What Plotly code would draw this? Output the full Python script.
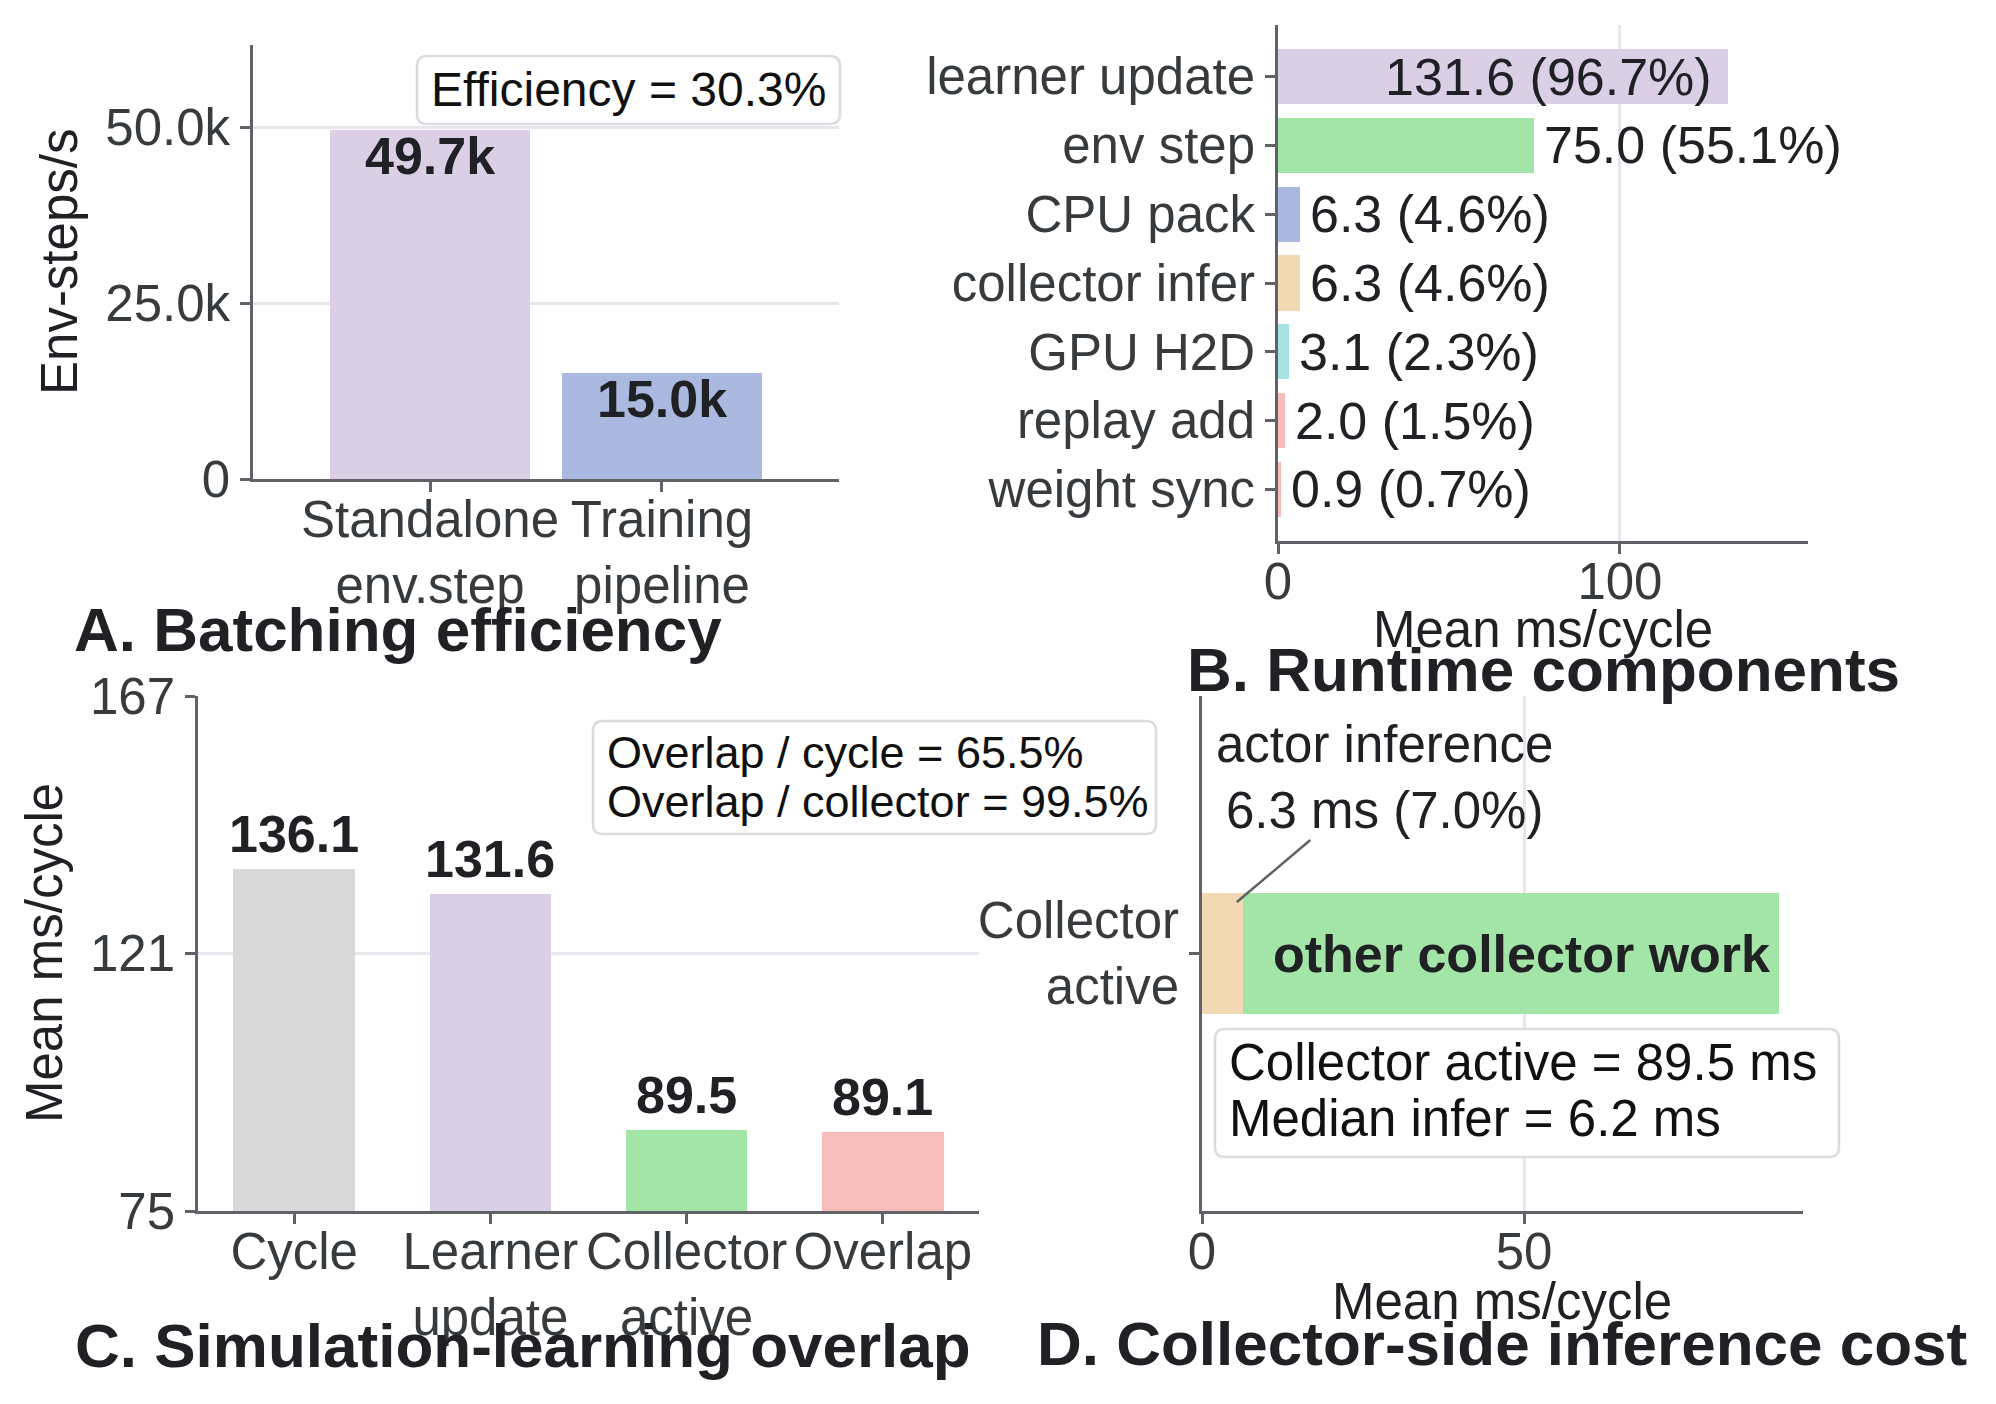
import plotly.graph_objects as go

W, H = 1996, 1404

# ---------------- data ----------------
# Panel A: batching efficiency
a_categories = ["Standalone<br>env.step", "Training<br>pipeline"]
a_values = [49680, 15040]
a_colors = ["#dacfe5", "#abb8e0"]
a_tickvals = [0, 25000, 50000]
a_ticktext = ["0", "25.0k", "50.0k"]

# Panel B: runtime components (mean ms / cycle)
b_components = ["learner update", "env step", "CPU pack", "collector infer",
                "GPU H2D", "replay add", "weight sync"]
b_values = [131.6, 75.0, 6.3, 6.3, 3.1, 2.0, 0.9]
b_colors = ["#dacfe5", "#a3e4a7", "#abb8e0", "#f3d9b3", "#a8e3e3", "#f8bdbb", "#f8bdbb"]
cycle_ms = 136.1
b_tickvals = [0, 100]

# Panel C: simulation-learning overlap
c_categories = ["Cycle", "Learner<br>update", "Collector<br>active", "Overlap"]
c_values = [136.1, 131.6, 89.5, 89.1]
c_colors = ["#d9d9d9", "#dacfe5", "#a3e4a7", "#f8bdbb"]
c_tickvals = [75, 121, 167]
overlap_per_cycle = 65.5
overlap_per_collector = 99.5

# Panel D: collector-side inference cost
d_category = "Collector<br>active"
d_infer_ms = 6.3
d_active_ms = 89.5
d_median_infer = 6.2
d_tickvals = [0, 50]

# ---------------- style ----------------
FONT = "Liberation Sans, Arial, sans-serif"
TICK_C = "#383b3e"
TXT_C = "#202124"
AX_C = "#5f6368"
GRID_C = "#e6e6ec"
BOX_C = "#dadce0"
XSTAND = -16
YSTAND = 0


def px(x):
    return x / W


def py(y):
    return 1 - y / H


def axis_common(**kw):
    d = dict(showline=True, linecolor=AX_C, linewidth=2.5, ticks="outside",
             ticklen=10, tickwidth=2.5, tickcolor=AX_C, zeroline=False,
             tickfont=dict(size=51, color=TICK_C, family=FONT),
             gridcolor=GRID_C, gridwidth=2.5, showgrid=False, fixedrange=True,
             automargin=False)
    d.update(kw)
    return d


fig = go.Figure()

# Panel A
fig.add_trace(go.Bar(x=list(range(len(a_values))), y=a_values, marker_color=a_colors,
                     width=0.86, xaxis="x", yaxis="y", showlegend=False))
# Panel B
fig.add_trace(go.Bar(y=list(range(len(b_values))), x=b_values, orientation="h",
                     marker_color=b_colors, width=0.8, xaxis="x2", yaxis="y2",
                     showlegend=False))
# Panel C
fig.add_trace(go.Bar(x=list(range(len(c_values))), y=c_values, marker_color=c_colors,
                     width=0.62, xaxis="x3", yaxis="y3", showlegend=False))
# Panel D
fig.add_trace(go.Bar(y=[0], x=[d_infer_ms], base=[0], orientation="h",
                     marker_color="#f3d9b3", width=0.47, xaxis="x4", yaxis="y4",
                     showlegend=False))
fig.add_trace(go.Bar(y=[0], x=[d_active_ms - d_infer_ms], base=[d_infer_ms],
                     orientation="h", marker_color="#a3e4a7", width=0.47,
                     xaxis="x4", yaxis="y4", showlegend=False))
for tr in fig.data:
    tr.marker.line.width = 0

annotations = []
shapes = []


def ann(text, x, y, xref="paper", yref="paper", size=51, color=TXT_C, **kw):
    d = dict(text=text, x=x, y=y, xref=xref, yref=yref, showarrow=False,
             font=dict(size=size, color=color, family=FONT))
    d.update(kw)
    annotations.append(d)


def rounded_box(x0, y0, x1, y1, r=10):
    pts = (f"M {px(x0 + r)},{py(y0)} L {px(x1 - r)},{py(y0)} "
           f"Q {px(x1)},{py(y0)} {px(x1)},{py(y0 + r)} "
           f"L {px(x1)},{py(y1 - r)} Q {px(x1)},{py(y1)} {px(x1 - r)},{py(y1)} "
           f"L {px(x0 + r)},{py(y1)} Q {px(x0)},{py(y1)} {px(x0)},{py(y1 - r)} "
           f"L {px(x0)},{py(y0 + r)} Q {px(x0)},{py(y0)} {px(x0 + r)},{py(y0)} Z")
    shapes.append(dict(type="path", path=pts, xref="paper", yref="paper",
                       line=dict(color=BOX_C, width=2.5), fillcolor="white",
                       layer="above"))


# ---- Panel A annotations ----
for i, v in enumerate(a_values):
    ann(f"<b>{v / 1000:.1f}k</b>", i, v, "x", "y", size=52, yanchor="middle", yshift=-26)
rounded_box(417, 56, 840, 124)
ann(f"Efficiency = {100 * a_values[1] / a_values[0]:.1f}%", px(429), py(89),
    size=48, color="#111111", xanchor="left", yanchor="middle")
ann("Env-steps/s", px(60), py(262), size=51, textangle=-90,
    xanchor="center", yanchor="middle")
ann("<b>A. Batching efficiency</b>", px(72), py(629), size=62,
    xanchor="left", yanchor="middle")

# ---- Panel B annotations ----
vmax = max(b_values)
for i, v in enumerate(b_values):
    label = f"{v:.1f} ({100 * v / cycle_ms:.1f}%)"
    if v / vmax > 0.9:
        ann(label, v, i, "x2", "y2", size=52, xanchor="right", yanchor="middle", xshift=-14)
    else:
        ann(label, v, i, "x2", "y2", size=52, xanchor="left", yanchor="middle", xshift=8)
ann("Mean ms/cycle", px(1543), py(629), size=51, xanchor="center", yanchor="middle")
ann("<b>B. Runtime components</b>", px(1543), py(670), size=62,
    xanchor="center", yanchor="middle")

# ---- Panel C annotations ----
for i, v in enumerate(c_values):
    ann(f"<b>{v:.1f}</b>", i, v, "x3", "y3", size=52, yanchor="middle", yshift=35)
rounded_box(593, 721, 1156, 834)
ann(f"Overlap / cycle = {overlap_per_cycle:.1f}%", px(605), py(752), size=45,
    color="#111111", xanchor="left", yanchor="middle")
ann(f"Overlap / collector = {overlap_per_collector:.1f}%", px(605), py(801), size=45,
    color="#111111", xanchor="left", yanchor="middle")
ann("Mean ms/cycle", px(45), py(953), size=51, textangle=-90,
    xanchor="center", yanchor="middle")
ann("<b>C. Simulation-learning overlap</b>", px(73), py(1345), size=62,
    xanchor="left", yanchor="middle")

# ---- Panel D annotations ----
ann("<b>other collector work</b>", (d_infer_ms + d_active_ms) / 2, 0, "x4", "y4",
    size=52, xanchor="center", yanchor="middle", xshift=11)
annotations.append(dict(
    text=f"actor inference<br>{d_infer_ms:.1f} ms ({100 * d_infer_ms / d_active_ms:.1f}%)",
    x=d_infer_ms * 0.86, y=0.2, xref="x4", yref="y4", showarrow=True,
    arrowhead=0, arrowwidth=2.5, arrowcolor=AX_C, ax=148, ay=-125,
    align="center", font=dict(size=51, color=TXT_C, family=FONT)))
rounded_box(1215, 1029, 1839, 1157)
ann(f"Collector active = {d_active_ms:.1f} ms", px(1227), py(1062), size=51,
    color="#111111", xanchor="left", yanchor="middle")
ann(f"Median infer = {d_median_infer:.1f} ms", px(1227), py(1118), size=51,
    color="#111111", xanchor="left", yanchor="middle")
ann("Mean ms/cycle", px(1502), py(1301), size=51, xanchor="center", yanchor="middle")
ann("<b>D. Collector-side inference cost</b>", px(1502), py(1343), size=62,
    xanchor="center", yanchor="middle")

fig.update_layout(
    template="none",
    width=W, height=H, margin=dict(l=0, r=0, t=0, b=0, pad=0, autoexpand=False),
    paper_bgcolor="white", plot_bgcolor="white",
    font=dict(family=FONT, color=TXT_C),
    barmode="overlay", bargap=0,
    xaxis=axis_common(domain=[px(253), px(839)], anchor="y", range=[-0.763, 1.763],
                      tickvals=list(range(len(a_categories))), ticktext=a_categories,
                      ticklabelstandoff=XSTAND),
    yaxis=axis_common(domain=[py(479), py(45)], anchor="x", range=[0, 61700],
                      tickvals=a_tickvals, ticktext=a_ticktext, showgrid=True,
                      ticklabelstandoff=YSTAND),
    xaxis2=axis_common(domain=[px(1278), px(1808)], anchor="y2", range=[0, 155],
                       tickvals=b_tickvals, showgrid=True, ticklabelstandoff=XSTAND),
    yaxis2=axis_common(domain=[py(541), py(25)], anchor="x2", range=[6.75, -0.75],
                       tickvals=list(range(len(b_components))), ticktext=b_components,
                       ticklabelstandoff=YSTAND),
    xaxis3=axis_common(domain=[px(198), px(979)], anchor="y3", range=[-0.49, 3.49],
                       tickvals=list(range(len(c_categories))), ticktext=c_categories,
                       ticklabelstandoff=XSTAND),
    yaxis3=axis_common(domain=[py(1211), py(696)], anchor="x3", range=[75, 167],
                       tickvals=c_tickvals, showgrid=True, ticklabelstandoff=YSTAND),
    xaxis4=axis_common(domain=[px(1202), px(1803)], anchor="y4", range=[0, 93.3],
                       tickvals=d_tickvals, showgrid=True, ticklabelstandoff=XSTAND),
    yaxis4=axis_common(domain=[py(1211), py(696)], anchor="x4", range=[-1, 1],
                       tickvals=[0], ticktext=[d_category], ticklabelstandoff=YSTAND),
    annotations=annotations,
    shapes=shapes,
)

fig.write_html("out.html")
